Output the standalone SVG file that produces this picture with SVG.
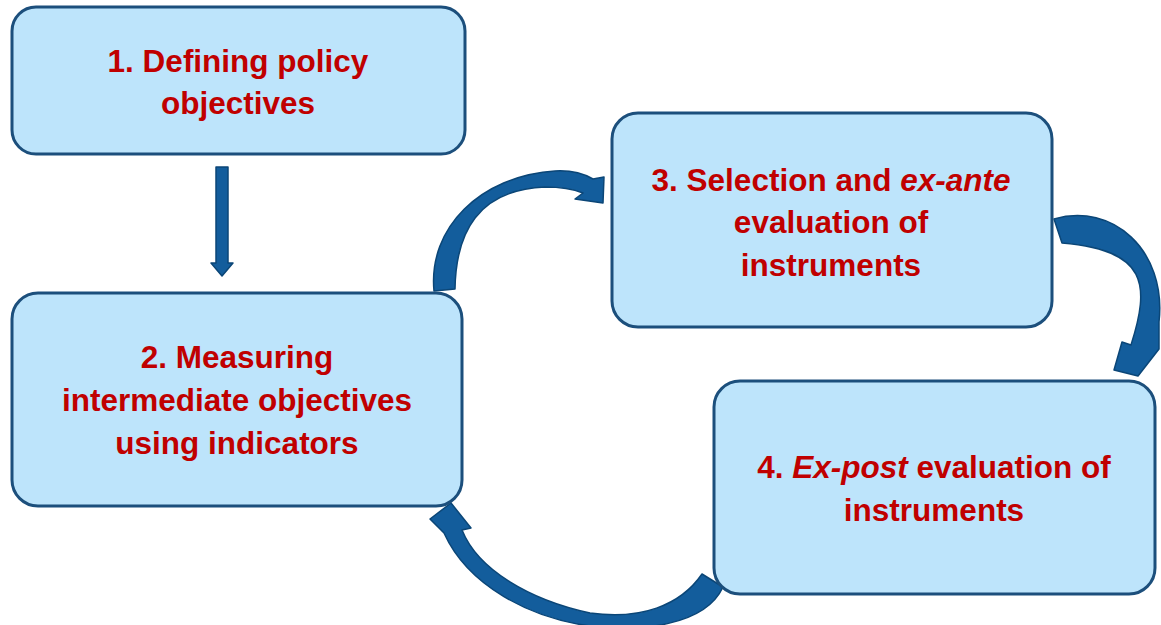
<svg xmlns="http://www.w3.org/2000/svg" width="1161" height="625" viewBox="0 0 1161 625">
  <style>
    .box { fill: #bde4fb; stroke: #1c4f7c; stroke-width: 3; }
    .lbl { font-family: "Liberation Sans", Arial, sans-serif; font-weight: bold; font-size: 31.5px; fill: #c00000; text-anchor: middle; }
    .arr { fill: #135d9c; stroke: #0b4677; stroke-width: 1.5; stroke-linejoin: round; }
  </style>
  <rect width="1161" height="625" fill="#ffffff"/>
  <g id="connectors">
    <polygon class="arr" points="216,167 228,167 228,263 233,263 222,276 211,263 216,263"/>
    <path class="arr" d="M434,291 C428,228 480,176 555,171 C573,170 586,175 593,179 L604,177 L603,203 L575,199 L583,193 C573,189 560,187 545,187 C478,190 456,232 455,289 Z"/>
    <path class="arr" d="M1054,219 C1112,202 1167,250 1159,322 L1159,349 L1138,376 L1114,370 L1122,342 L1131,345 C1150,285 1148,250 1062,243 Z"/>
    <path class="arr" d="M723,587 C705,626 640,632 590,626 C530,618 468,586 444,533 L430,519 L451,503 L471,528 L462,530 C478,570 530,600 590,613 C640,620 680,606 702,574 Z"/>
  </g>
  <g id="node1">
    <rect class="box" x="12" y="7" width="453" height="147" rx="24"/>
    <text class="lbl" x="238" y="72">1. Defining policy</text>
    <text class="lbl" x="238" y="114">objectives</text>
  </g>
  <g id="node2">
    <rect class="box" x="12" y="293" width="450" height="213" rx="26"/>
    <text class="lbl" x="237" y="368">2. Measuring</text>
    <text class="lbl" x="237" y="411">intermediate objectives</text>
    <text class="lbl" x="237" y="454">using indicators</text>
  </g>
  <g id="node3">
    <rect class="box" x="612" y="113" width="440" height="214" rx="26"/>
    <text class="lbl" x="831" y="191">3. Selection and <tspan font-style="italic">ex-ante</tspan></text>
    <text class="lbl" x="831" y="233">evaluation of</text>
    <text class="lbl" x="831" y="276">instruments</text>
  </g>
  <g id="node4">
    <rect class="box" x="714" y="381" width="441" height="213" rx="26"/>
    <text class="lbl" x="934" y="478">4. <tspan font-style="italic">Ex-post</tspan> evaluation of</text>
    <text class="lbl" x="934" y="521">instruments</text>
  </g>
</svg>
